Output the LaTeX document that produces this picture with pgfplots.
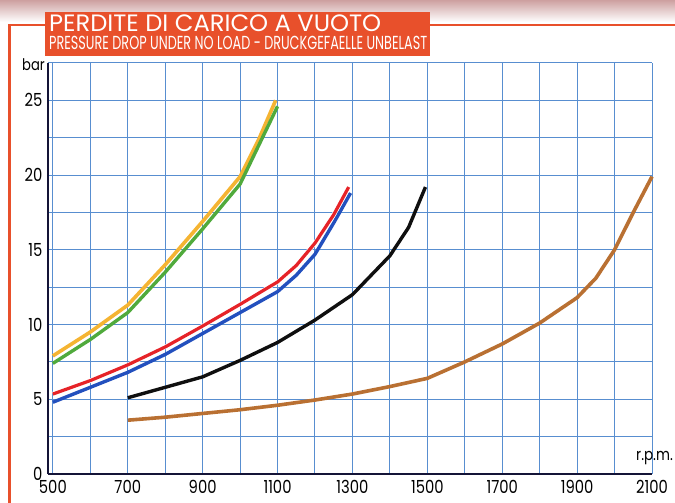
\documentclass[border=0pt]{standalone}
\usepackage{fontspec}
\setmainfont{Poppins}
\newfontfamily\tickfont[FakeStretch=0.82]{Poppins}
\usepackage{pgfplots}
\pgfplotsset{compat=1.18}
\definecolor{gridblue}{RGB}{88,142,208}
\definecolor{axisnavy}{RGB}{20,20,55}
\definecolor{frameorange}{RGB}{232,80,43}
\definecolor{cyellow}{RGB}{245,180,50}
\definecolor{cgreen}{RGB}{80,170,60}
\definecolor{cred}{RGB}{230,35,40}
\definecolor{cblue}{RGB}{35,80,190}
\definecolor{cblack}{RGB}{15,15,15}
\definecolor{cbrown}{RGB}{185,112,50}
\definecolor{topband}{RGB}{205,160,160}
\begin{document}
\begin{tikzpicture}
\useasboundingbox (0pt,0pt) rectangle (675pt,503pt);
\fill[white] (0pt,0pt) rectangle (675pt,503pt);
\shade[top color=topband, bottom color=white] (0pt,503pt) rectangle (675pt,481pt);
\draw[frameorange, line width=2.2pt] (9.5pt,0pt) -- (9.5pt,478pt) -- (675pt,478pt);
\begin{axis}[
  at={(48pt,29pt)}, anchor=south west,
  scale only axis, width=604pt, height=411pt,
  xmin=487, xmax=2100, ymin=0, ymax=27.5,
  axis x line=bottom, axis y line=left,
  axis line style={-, axisnavy, line width=2.8pt},
  xtick={500,700,...,2100}, minor xtick={600,800,...,2000},
  ytick={0,5,...,25}, minor ytick={2.5,7.5,...,27.5},
  grid=both,
  major grid style={gridblue, line width=1.0pt},
  minor grid style={gridblue, line width=1.0pt},
  major tick length=0pt, minor tick length=0pt,
  tick label style={font=\tickfont\fontsize{18}{18}\selectfont, text=black},
  /pgf/number format/assume math mode=true,
  /pgf/number format/set thousands separator={},
  xticklabel style={yshift=-3pt},
  yticklabel style={xshift=-2pt},
  clip=false,
]
\addplot[cyellow, line width=3.6pt, line join=round] coordinates {
 (500,7.9) (600,9.5) (700,11.3) (800,14.0) (900,16.9) (1000,19.9) (1050,22.4) (1095,25.0)};
\addplot[cgreen, line width=3.4pt, line join=round] coordinates {
 (500,7.4) (600,9.0) (700,10.8) (800,13.5) (900,16.4) (1000,19.4) (1050,22.0) (1100,24.6)};
\addplot[cblue, line width=3.4pt, line join=round] coordinates {
 (500,4.8) (600,5.8) (700,6.8) (800,8.0) (900,9.4) (1000,10.8) (1100,12.2) (1150,13.3) (1200,14.7) (1250,16.8) (1295,18.8)};
\addplot[white, line width=4.4pt, line join=round] coordinates {
 (500,5.35) (600,6.25) (700,7.3) (800,8.5) (900,9.9) (1000,11.35) (1100,12.85) (1150,13.95) (1200,15.45) (1250,17.35) (1290,19.2)};
\addplot[cred, line width=3.2pt, line join=round] coordinates {
 (500,5.35) (600,6.25) (700,7.3) (800,8.5) (900,9.9) (1000,11.35) (1100,12.85) (1150,13.95) (1200,15.45) (1250,17.35) (1290,19.2)};
\addplot[cblack, line width=3.4pt, line join=round] coordinates {
 (700,5.1) (800,5.8) (900,6.5) (1000,7.6) (1100,8.8) (1200,10.3) (1300,12.0) (1400,14.6) (1450,16.5) (1495,19.2)};
\addplot[cbrown, line width=3.6pt, line join=round] coordinates {
 (700,3.6) (800,3.8) (900,4.05) (1000,4.3) (1100,4.6) (1200,4.95) (1300,5.35) (1400,5.85) (1500,6.4) (1600,7.5) (1700,8.7) (1800,10.1) (1900,11.8) (1950,13.1) (2000,15.0) (2050,17.5) (2100,19.9)};
\end{axis}
\node[anchor=base west, inner sep=0, font=\tickfont\fontsize{16}{16}\selectfont, text=black] at (22pt,432pt) {bar};
\node[anchor=base west, inner sep=0, font=\tickfont\fontsize{16.5}{16.5}\selectfont, text=black] at (636pt,42pt) {r.p.m.};
\fill[frameorange] (45pt,447pt) rectangle (430pt,491pt);
\node[anchor=south west, inner sep=0, text=white] at (49pt,471.3pt) {\resizebox{332pt}{16.7pt}{PERDITE DI CARICO A VUOTO}};
\node[anchor=south west, inner sep=0, text=white] at (49pt,453pt) {\resizebox{378pt}{13.3pt}{PRESSURE DROP UNDER NO LOAD - DRUCKGEFAELLE UNBELAST}};
\end{tikzpicture}
\end{document}
